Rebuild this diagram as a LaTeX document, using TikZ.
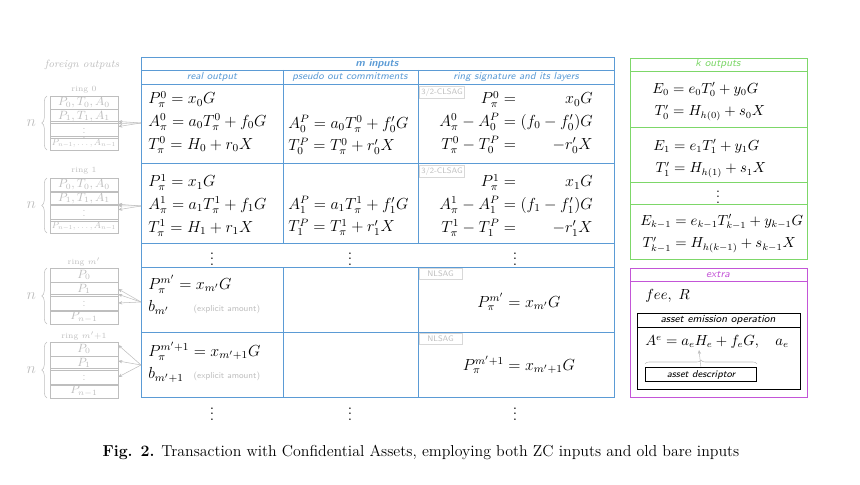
\documentclass[tikz,border=0pt,12pt]{standalone}
\usepackage{amsmath}
\usepackage{tikz}
\usepackage{color}
\usetikzlibrary{decorations.pathreplacing}
\usetikzlibrary{arrows.meta}

\definecolor{inblue}{RGB}{91,155,213}
\definecolor{outgreen}{RGB}{125,215,105}
\definecolor{extramag}{RGB}{195,85,215}
\definecolor{ringgray}{RGB}{190,190,190}

\renewcommand{\arraystretch}{1.17}
\newcommand{\eqlines}[1]{$\begin{array}{@{}l@{}}#1\end{array}$}
\newcommand{\eqpairs}[1]{$\begin{array}{@{}r@{{}={}}r@{}}#1\end{array}$}
\newcommand{\outpairs}[1]{$\def\arraystretch{1.36}\begin{array}{@{}r@{{}={}}l@{}}#1\end{array}$}
\newcommand{\explamt}[1]{\makebox[34pt][l]{$#1$}\text{\fontsize{6.5}{8}\selectfont\sffamily\color{ringgray}(explicit amount)}}

\tikzset{
  eqn/.style={inner sep=0pt},
  sidefont/.style={font=\fontsize{10.5}{12.6}\selectfont},
  colhead/.style={text=inblue, font=\fontsize{7.7}{9}\selectfont\sffamily\itshape},
  ringcell/.style={draw=ringgray, text=ringgray, minimum width=51pt, minimum height=10.3pt, inner sep=0pt, font=\fontsize{9}{10}\selectfont},
  ringlbl/.style={text=ringgray, font=\tiny},
  feed/.style={draw=ringgray, -{Stealth[length=3pt,width=2.5pt]}},
  nbrace/.style={draw=ringgray, decorate, decoration={brace, amplitude=4pt}},
  sigtag/.style={draw=ringgray!60, text=ringgray, font=\tiny\sffamily, inner sep=1.5pt, minimum width=32pt, minimum height=8.5pt, anchor=north west},
}

\begin{document}
\begin{tikzpicture}[x=0.75pt,y=0.75pt,yscale=-1,xscale=1]
\path[use as bounding box] (0,0) rectangle (860,485);

% Text Node
\node[text=ringgray, font=\scriptsize\itshape] (fhead) at (82,65) {foreign outputs};

%Shape: Rectangle [m inputs table]
\draw[inblue] (141,57) rectangle (614,397);
\draw[inblue] (141,70) -- (614,70);
\draw[inblue] (141,84) -- (614,84);
\draw[inblue] (141,163) -- (614,163);
\draw[inblue] (141,243) -- (614,243);
\draw[inblue] (141,267) -- (614,267);
\draw[inblue] (141,332) -- (614,332);
\draw[inblue] (283,70) -- (283,243);
\draw[inblue] (418,70) -- (418,243);
\draw[inblue] (283,267) -- (283,397);
\draw[inblue] (418,267) -- (418,397);

% Text Node
\node[text=inblue, font=\scriptsize\sffamily\bfseries\itshape] (mhead) at (377,64) {m inputs};
\node[colhead] (realhead) at (212,77) {real output};
\node[colhead] (pseudohead) at (350,77) {pseudo out commitments};
\node[colhead] (ringhead) at (516,77) {ring signature and its layers};

% Text Node [ring 0 row]
\node[eqn, anchor=west] (real0) at (148,122) {\eqlines{P^0_\pi = x_0G\\ A^0_\pi = a_0T^0_\pi + f_0G\\ T^0_\pi = H_0 + r_0X}};
\node[eqn, anchor=west] (pseudo0) at (288,135) {\eqlines{A^P_0 = a_0T^0_\pi + f'_0G\\ T^P_0 = T^0_\pi + r'_0X}};
\node[eqn, anchor=east] (sig0) at (593,122) {\eqpairs{P^0_\pi & x_0G\\ A^0_\pi - A^P_0 & (f_0 - f'_0)G\\ T^0_\pi - T^P_0 & -r'_0X}};
\node[sigtag] (tag0) at (419,86) {3/2-CLSAG};

% Text Node [ring 1 row]
\node[eqn, anchor=west] (real1) at (148,205) {\eqlines{P^1_\pi = x_1G\\ A^1_\pi = a_1T^1_\pi + f_1G\\ T^1_\pi = H_1 + r_1X}};
\node[eqn, anchor=west] (pseudo1) at (288,216) {\eqlines{A^P_1 = a_1T^1_\pi + f'_1G\\ T^P_1 = T^1_\pi + r'_1X}};
\node[eqn, anchor=east] (sig1) at (593,205) {\eqpairs{P^1_\pi & x_1G\\ A^1_\pi - A^P_1 & (f_1 - f'_1)G\\ T^1_\pi - T^P_1 & -r'_1X}};
\node[sigtag] (tag1) at (419,165) {3/2-CLSAG};

% Text Node [dots]
\node (dotsa) at (212,255) {$\vdots$};
\node (dotsb) at (350,255) {$\vdots$};
\node (dotsc) at (515,255) {$\vdots$};

% Text Node [ring m' rows]
\node[eqn, anchor=west] (realm) at (148,296) {\eqlines{P^{m'}_\pi = x_{m'}G\\ \explamt{b_{m'}}}};
\node (sigm) at (519,302) {$P^{m'}_\pi = x_{m'}G$};
\node[sigtag] (tagm) at (419,268) {NLSAG};
\node[eqn, anchor=west] (realmm) at (148,363) {\eqlines{P^{m'+1}_\pi = x_{m'+1}G\\ \explamt{b_{m'+1}}}};
\node (sigmm) at (519,365) {$P^{m'+1}_\pi = x_{m'+1}G$};
\node[sigtag] (tagmm) at (419,333) {NLSAG};

\node (dotsd) at (212,410) {$\vdots$};
\node (dotse) at (350,410) {$\vdots$};
\node (dotsf) at (515,410) {$\vdots$};

% foreign rings
\node[ringlbl] (lbl0) at (84,90) {ring 0};
\node[ringcell] (ra0) at (84,102.75) {$P_0, T_0, A_0$};
\node[ringcell] (ra1) at (84,116.25) {$P_1, T_1, A_1$};
\node[ringcell] (ra2) at (84,129.75) {\scalebox{0.85}{$\vdots$}};
\node[ringcell] (ra3) at (84,143.25) {\resizebox{48pt}{!}{$P_{n-1},\ldots, A_{n-1}$}};
\draw[nbrace] (47,150) -- (47,96) node[midway, left=4pt, text=ringgray] (na) {$n$};

\node[ringlbl] (lbl1) at (84,171) {ring 1};
\node[ringcell] (rb0) at (84,184.9) {$P_0, T_0, A_0$};
\node[ringcell] (rb1) at (84,198.6) {$P_1, T_1, A_1$};
\node[ringcell] (rb2) at (84,212.4) {\scalebox{0.85}{$\vdots$}};
\node[ringcell] (rb3) at (84,226.1) {\resizebox{48pt}{!}{$P_{n-1},\ldots, A_{n-1}$}};
\draw[nbrace] (47,233) -- (47,178) node[midway, left=4pt, text=ringgray] (nb) {$n$};

\node[ringlbl] (lblm) at (84,262) {ring $m'$};
\node[ringcell] (rc0) at (84,275) {$P_0$};
\node[ringcell] (rc1) at (84,289) {$P_1$};
\node[ringcell] (rc2) at (84,303) {\scalebox{0.85}{$\vdots$}};
\node[ringcell] (rc3) at (84,317) {$P_{n-1}$};
\draw[nbrace] (47,324) -- (47,268) node[midway, left=4pt, text=ringgray] (nc) {$n$};

\node[ringlbl] (lblmm) at (84,336) {ring $m'{+}1$};
\node[ringcell] (rd0) at (84,349) {$P_0$};
\node[ringcell] (rd1) at (84,363) {$P_1$};
\node[ringcell] (rd2) at (84,377) {\scalebox{0.85}{$\vdots$}};
\node[ringcell] (rd3) at (84,391) {$P_{n-1}$};
\draw[nbrace] (47,398) -- (47,342) node[midway, left=4pt, text=ringgray] (nd) {$n$};

% feeds into the inputs
\coordinate (src0) at (141,123);
\coordinate (src1) at (141,206);
\coordinate (srcm) at (141,302);
\coordinate (srcmm) at (141,365);
\draw[feed] (src0) -- ([yshift=3.9pt]ra1.east);
\draw[feed] (src0) -- (ra1.south east);
\draw[feed] (src0) -- ([yshift=-2.4pt]ra2.east);
\draw[feed] (src1) -- ([yshift=4.2pt]rb1.east);
\draw[feed] (src1) -- (rb1.south east);
\draw[feed] (src1) -- ([yshift=-2pt]rb2.east);
\draw[feed] (srcm) -- (rc1.east);
\draw[feed] (srcm) -- (rc2.east);
\draw[feed] (srcm) -- ([yshift=-6.5pt]rc2.east);
\draw[feed] (srcmm) -- ([yshift=-3pt]rd0.east);
\draw[feed] (srcmm) -- ([yshift=-1.5pt]rd1.east);
\draw[feed] (srcmm) -- (rd2.east);

%Shape: Rectangle [k outputs]
\draw[outgreen] (630,58) rectangle (807,259);
\draw[outgreen] (630,71) -- (807,71);
\draw[outgreen] (630,127) -- (807,127);
\draw[outgreen] (630,182) -- (807,182);
\draw[outgreen] (630,204) -- (807,204);
\node[text=outgreen, font=\scriptsize\sffamily\itshape] (khead) at (718,64) {k outputs};
\node[eqn, sidefont, anchor=west] (out0) at (652,100) {\outpairs{E_0 & e_0T'_0 + y_0G\\ T'_0 & H_{h(0)} + s_0X}};
\node[eqn, sidefont, anchor=west] (out1) at (653,157) {\outpairs{E_1 & e_1T'_1 + y_1G\\ T'_1 & H_{h(1)} + s_1X}};
\node[sidefont] (kdots) at (718,193) {$\vdots$};
\node[eqn, sidefont, anchor=west] (outk) at (640,232) {\outpairs{E_{k-1} & e_{k-1}T'_{k-1} + y_{k-1}G\\ T'_{k-1} & H_{h(k-1)} + s_{k-1}X}};

%Shape: Rectangle [extra]
\draw[extramag] (630,268) rectangle (807,397);
\draw[extramag] (630,281) -- (807,281);
\node[text=extramag, font=\scriptsize\sffamily\itshape] (xhead) at (718,275) {extra};
\node[eqn, sidefont, anchor=west] (fee) at (645,296) {$fee,\ R$};
\draw (637,313) rectangle (800,389);
\draw (637,327) -- (800,327);
\node[font=\scriptsize\sffamily\itshape] (emhead) at (718,320) {asset emission operation};
\node[eqn, sidefont, anchor=west] (emeq) at (645,342) {$A^e = a_eH_e + f_eG, \quad a_e$};
\draw[nbrace, decoration={brace, amplitude=3pt}] (645,364) -- (757,364) coordinate[midway] (brmid);
\coordinate (hetip) at (699,350);
\draw[draw=ringgray, -{Stealth[length=3pt,width=2.5pt]}] ([yshift=3pt]brmid) -- (hetip);
\node[draw, semithick, minimum width=83pt, minimum height=10pt, inner sep=1pt, font=\fontsize{7.5}{9}\selectfont\sffamily\itshape] (descr) at (701,374.5) {asset descriptor};

% Text Node [caption]
\node[font=\fontsize{11.9}{14}\selectfont] (caption) at (421,452) {\textbf{Fig. 2.} Transaction with Confidential Assets, employing both ZC inputs and old bare inputs};

\end{tikzpicture}
\end{document}
